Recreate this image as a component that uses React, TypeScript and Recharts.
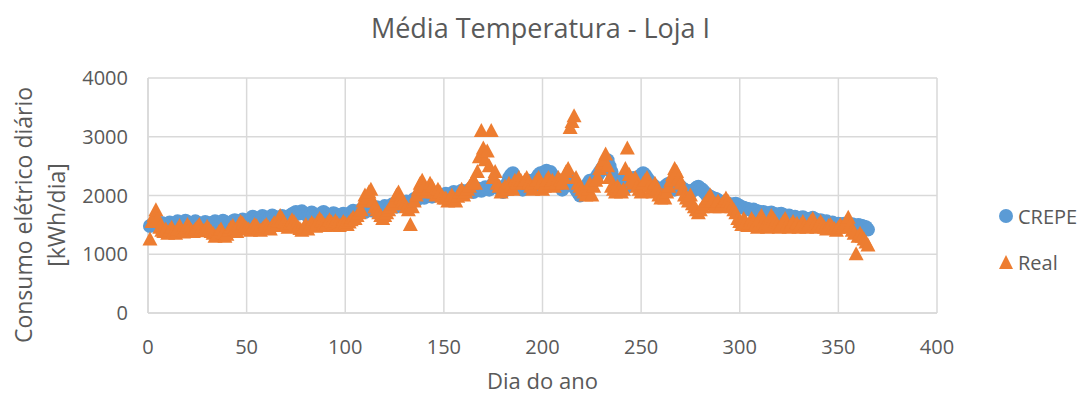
import { ScatterChart, Scatter, XAxis, YAxis, CartesianGrid } from 'recharts';

const FONT = '"Open Sans", sans-serif';
const TXT = '#595959';
const BLUE = '#5B9BD5';
const ORANGE = '#ED7D31';

const xTicks = [0, 50, 100, 150, 200, 250, 300, 350, 400];
const yTicks = [0, 1000, 2000, 3000, 4000];

// CREPE model, one value per day (1..365)
const crepe = [
  1480, 1500, 1520, 1490, 1470, 1510, 1530, 1500, 1480, 1520,
  1540, 1510, 1490, 1530, 1560, 1520, 1500, 1540, 1570, 1550,
  1520, 1500, 1530, 1560, 1540, 1510, 1490, 1520, 1550, 1530,
  1500, 1520, 1540, 1560, 1530, 1510, 1540, 1570, 1550, 1520,
  1500, 1530, 1560, 1580, 1550, 1530, 1560, 1590, 1570, 1540,
  1560, 1600, 1640, 1620, 1590, 1570, 1610, 1650, 1630, 1600,
  1580, 1620, 1660, 1640, 1610, 1590, 1620, 1650, 1630, 1600,
  1620, 1650, 1680, 1700, 1720, 1690, 1710, 1730, 1700, 1680,
  1660, 1690, 1710, 1680, 1650, 1640, 1670, 1700, 1720, 1690,
  1660, 1640, 1670, 1700, 1680, 1650, 1630, 1660, 1690, 1670,
  1650, 1680, 1710, 1740, 1720, 1700, 1730, 1760, 1740, 1720,
  1750, 1780, 1760, 1740, 1770, 1800, 1780, 1760, 1790, 1820,
  1800, 1780, 1810, 1850, 1830, 1810, 1840, 1870, 1850, 1880,
  1900, 1880, 1860, 1900, 1940, 1920, 1960, 2000, 1980, 1960,
  1990, 2020, 2000, 1980, 2010, 2040, 2020, 2000, 1980, 2010,
  2030, 2010, 1990, 2020, 2060, 2040, 2020, 2050, 2080, 2060,
  2040, 2070, 2100, 2080, 2060, 2090, 2120, 2100, 2080, 2110,
  2140, 2120, 2100, 2150, 2200, 2180, 2150, 2120, 2090, 2060,
  2100, 2200, 2300, 2350, 2380, 2300, 2200, 2150, 2120, 2100,
  2150, 2200, 2250, 2200, 2150, 2250, 2300, 2350, 2380, 2360,
  2400, 2420, 2380, 2400, 2350, 2300, 2250, 2200, 2150, 2100,
  2150, 2200, 2250, 2300, 2200, 2150, 2100, 2050, 2000, 2050,
  2100, 2150, 2200, 2250, 2200, 2250, 2300, 2350, 2400, 2450,
  2500, 2550, 2600, 2500, 2400, 2300, 2250, 2200, 2180, 2200,
  2250, 2200, 2150, 2200, 2250, 2300, 2280, 2250, 2300, 2350,
  2380, 2350, 2300, 2250, 2200, 2180, 2150, 2120, 2100, 2080,
  2100, 2150, 2180, 2200, 2160, 2130, 2100, 2150, 2180, 2150,
  2120, 2100, 2080, 2060, 2050, 2080, 2100, 2130, 2150, 2120,
  2100, 2060, 2020, 2000, 1980, 1960, 1950, 1940, 1920, 1900,
  1890, 1880, 1870, 1860, 1850, 1840, 1850, 1860, 1840, 1820,
  1800, 1790, 1780, 1770, 1760, 1750, 1760, 1740, 1730, 1720,
  1710, 1720, 1700, 1690, 1700, 1710, 1690, 1680, 1670, 1680,
  1690, 1670, 1660, 1650, 1660, 1640, 1630, 1640, 1620, 1610,
  1620, 1630, 1610, 1600, 1590, 1600, 1620, 1600, 1580, 1570,
  1580, 1560, 1550, 1560, 1540, 1530, 1540, 1520, 1510, 1520,
  1510, 1500, 1520, 1500, 1490, 1500, 1510, 1490, 1480, 1500,
  1490, 1480, 1470, 1460, 1420,
];

// measured consumption, one value per day (1..365)
const real = [
  1250, 1550, 1650, 1750, 1600, 1450, 1400, 1380, 1420, 1350,
  1400, 1450, 1380, 1350, 1420, 1480, 1400, 1370, 1430, 1500,
  1450, 1400, 1380, 1420, 1460, 1500, 1430, 1390, 1410, 1470,
  1420, 1380, 1350, 1300, 1320, 1380, 1420, 1350, 1300, 1330,
  1400, 1450, 1480, 1420, 1380, 1500, 1550, 1520, 1470, 1440,
  1420, 1400, 1450, 1500, 1480, 1420, 1400, 1430, 1470, 1500,
  1450, 1420, 1480, 1530, 1500, 1560, 1650, 1600, 1540, 1480,
  1450, 1520, 1580, 1550, 1500, 1460, 1430, 1400, 1450, 1500,
  1420, 1480, 1530, 1500, 1470, 1550, 1600, 1560, 1510, 1480,
  1530, 1580, 1540, 1500, 1560, 1520, 1480, 1500, 1550, 1520,
  1500, 1540, 1580, 1620, 1600, 1650, 1700, 1750, 1900, 2000,
  1950, 2050, 2100, 1900, 1800, 1750, 1700, 1650, 1600, 1650,
  1700, 1750, 1800, 1850, 1900, 2000, 2050, 1950, 1900, 1850,
  1800, 1750, 1500, 1800, 1900, 2000, 2100, 2200, 2250, 2150,
  2050, 2100, 2200, 2150, 2050, 2000, 2100, 2050, 1980, 1950,
  1950, 1900, 1950, 2000, 1950, 1900, 1980, 2050, 2100, 2000,
  2050, 2100, 2150, 2200, 2250, 2200, 2400, 2650, 3100, 2800,
  2600, 2750, 2500, 3100, 2300, 2400, 2200, 2150, 2050, 2100,
  2150, 2100, 2200, 2150, 2100, 2250, 2200, 2300, 2250, 2200,
  2250, 2300, 2200, 2150, 2100, 2200, 2250, 2300, 2200, 2100,
  2150, 2250, 2300, 2200, 2250, 2150, 2200, 2300, 2250, 2200,
  2300, 2400, 2450, 3150, 3250, 3350, 2300, 2200, 2150, 2100,
  2050, 2000, 2100, 2200, 2000, 2150, 2250, 2300, 2450, 2550,
  2600, 2700, 2500, 2300, 2150, 2100, 2050, 2150, 2100, 2050,
  2100, 2450, 2800, 2350, 2250, 2200, 2300, 2150, 2100, 2050,
  2200, 2250, 2300, 2150, 2100, 2050, 2200, 2100, 2000, 1950,
  2000, 1950, 2050, 2150, 2250, 2350, 2450, 2400, 2300, 2200,
  2100, 2000, 1950, 1900, 2000, 1850, 1800, 1750, 1700, 1750,
  1800, 1850, 1900, 1950, 2000, 1900, 1800, 1850, 1900, 1800,
  1850, 1900, 1950, 1900, 1850, 1800, 1750, 1700, 1600, 1550,
  1500, 1600, 1550, 1480, 1520, 1600, 1550, 1500, 1450, 1600,
  1650, 1550, 1500, 1450, 1550, 1650, 1600, 1550, 1500, 1450,
  1500, 1550, 1600, 1500, 1450, 1500, 1550, 1480, 1520, 1450,
  1500, 1550, 1480, 1450, 1500, 1550, 1600, 1500, 1450, 1500,
  1550, 1500, 1450, 1420, 1480, 1500, 1450, 1430, 1400, 1450,
  1500, 1450, 1480, 1550, 1620, 1500, 1400, 1350, 1000, 1300,
  1350, 1300, 1250, 1200, 1150,
];

const crepeData = crepe.map((v, i) => ({ dia: i + 1, valor: v }));
const realData = real.map((v, i) => ({ dia: i + 1, valor: v }));

const Dot = (p: any) => <circle cx={p.cx} cy={p.cy} r={7} fill={BLUE} />;
const Tri = (p: any) => (
  <polygon points={`${p.cx},${p.cy - 8} ${p.cx + 7.5},${p.cy + 6} ${p.cx - 7.5},${p.cy + 6}`} fill={ORANGE} />
);

const YLabel = () => (
  <g fill={TXT} fontSize={23} fontFamily={FONT}>
    <text transform="translate(32,215) rotate(-90)" textAnchor="middle">Consumo elétrico diário</text>
    <text transform="translate(65,215) rotate(-90)" textAnchor="middle">[kWh/dia]</text>
  </g>
);

export default function App() {
  return (
    <div style={{ position: 'absolute', left: 0, top: 0, width: 1081, height: 394, background: '#fff' }}>
      <div style={{
        position: 'absolute', top: 8, left: 0, width: 1081, textAlign: 'center',
        fontFamily: FONT, fontSize: 27, color: TXT, lineHeight: '40px',
      }}>Média Temperatura - Loja I</div>
      <ScatterChart width={1081} height={394} margin={{ top: 78, right: 144, bottom: 41, left: 78 }}>
        <CartesianGrid stroke="#d9d9d9" strokeWidth={1.5} />
        <XAxis
          type="number" dataKey="dia" domain={[0, 400]} ticks={xTicks} interval={0}
          axisLine={{ stroke: '#d9d9d9', strokeWidth: 1.5 }} tickLine={false} tickMargin={21}
          tick={{ fill: TXT, fontSize: 20, fontFamily: FONT }} height={40}
          label={{ value: 'Dia do ano', position: 'bottom', offset: 20, fill: TXT, fontSize: 22, fontFamily: FONT }}
        />
        <YAxis
          type="number" dataKey="valor" domain={[0, 4000]} ticks={yTicks} interval={0}
          axisLine={{ stroke: '#d9d9d9', strokeWidth: 1.5 }} tickLine={false} tickMargin={14}
          tick={{ fill: TXT, fontSize: 20, fontFamily: FONT }} width={70}
          label={<YLabel />}
        />
        <Scatter name="CREPE" data={crepeData} shape={Dot} isAnimationActive={false} />
        <Scatter name="Real" data={realData} shape={Tri} isAnimationActive={false} />
      </ScatterChart>
      <div style={{ position: 'absolute', left: 998, top: 193, fontFamily: FONT, fontSize: 20, color: TXT }}>
        <div style={{ display: 'flex', alignItems: 'center', height: 46 }}>
          <svg width={16} height={16}><circle cx={8} cy={8} r={7} fill={BLUE} /></svg>
          <span style={{ marginLeft: 4 }}>CREPE</span>
        </div>
        <div style={{ display: 'flex', alignItems: 'center', height: 46 }}>
          <svg width={16} height={16}><polygon points="8,1 15,15 1,15" fill={ORANGE} /></svg>
          <span style={{ marginLeft: 4 }}>Real</span>
        </div>
      </div>
    </div>
  );
}
